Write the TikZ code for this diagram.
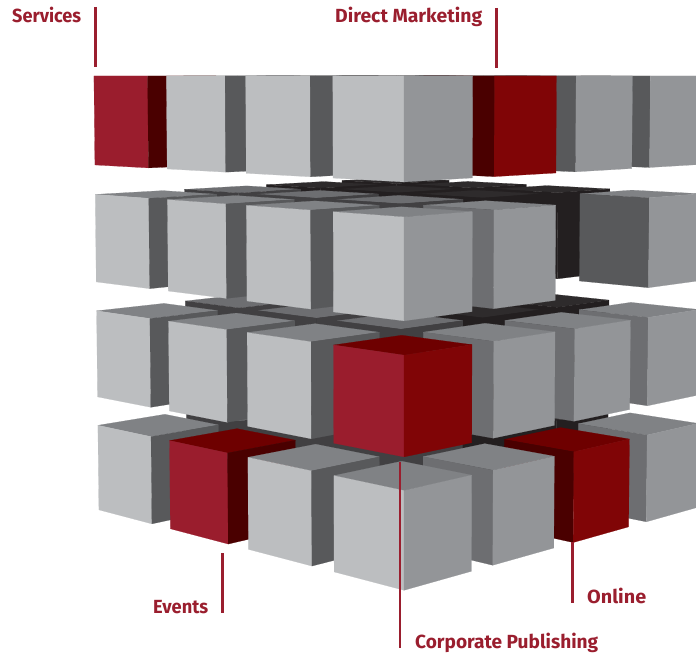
\documentclass[tikz,border=0pt]{standalone}
\usepackage{fontspec}
\setmainfont{Fira Sans}
\definecolor{lbl}{HTML}{9A1E2E}
\definecolor{cT}{HTML}{808285}
\definecolor{cL}{HTML}{BCBEC0}
\definecolor{cR}{HTML}{939598}
\definecolor{cD}{HTML}{58595B}
\definecolor{cM}{HTML}{6D6E71}
\definecolor{cIat}{HTML}{6D6E71}
\definecolor{cIa}{HTML}{414042}
\definecolor{cIbt}{HTML}{2E2B2C}
\definecolor{cIb}{HTML}{231F20}
\definecolor{rL}{HTML}{9A1D2D}
\definecolor{rR}{HTML}{800506}
\definecolor{rT}{HTML}{6E0000}
\definecolor{rD}{HTML}{4A0000}
% projection parameters
\def\myca{0.71934}\def\mysa{0.69466}
\def\myct{0.99027}\def\myst{0.13917}
\def\myZo{18.05}\def\mys{1.334}
\def\mycx{404}\def\mycy{341.7}\def\myfx{1837}\def\myfy{1891}
\newcommand\prj[4]{%
  \pgfmathsetmacro\myX{-(#2)*\myca+(#3)*\mysa}%
  \pgfmathsetmacro\myZ{\myZo+(#2)*\mysa+(#3)*\myca}%
  \pgfmathsetmacro\myyc{(#4)*\myct+\myZ*\myst}%
  \pgfmathsetmacro\myzc{\myZ*\myct-(#4)*\myst}%
  \pgfmathsetmacro\myzx{\myZ*\myct-0.5*(#4)*\myst}%
  \pgfmathsetmacro\mysx{\mycx+\myfx*(\myX/\myzx)}%
  \pgfmathsetmacro\mysy{\mycy-\myfy*(\myyc/\myzc)}%
  \coordinate (#1) at (\mysx,\mysy);%
}
\newcommand\drawcube[3]{%
 \edef\cid{#1#2#3}%
 \ifnum\cid=21 \else
  \pgfmathsetmacro\cpa{#1*\mys}%
  \pgfmathsetmacro\cpb{\cpa+1}%
  \pgfmathsetmacro\cqa{#2*\mys}%
  \pgfmathsetmacro\cqb{\cqa+1}%
  \pgfmathsetmacro\cyt{-#3*\mys}%
  \pgfmathsetmacro\cyb{\cyt-1}%
  \prj{A}{\cpa}{\cqa}{\cyt}%
  \prj{L}{\cpb}{\cqa}{\cyt}%
  \prj{R}{\cpa}{\cqb}{\cyt}%
  \prj{B}{\cpb}{\cqb}{\cyt}%
  \prj{Ab}{\cpa}{\cqa}{\cyb}%
  \prj{Lb}{\cpb}{\cqa}{\cyb}%
  \prj{Rb}{\cpa}{\cqb}{\cyb}%
  \def\ctop{cT}\def\cleft{cL}\def\cright{cR}%
  \ifnum#1>0 \def\cright{cD}\fi
  \ifnum#2>0 \ifnum#3=0 \def\cleft{cD}\else\def\cleft{cM}\fi\fi
  \ifnum\cid=31 \def\cleft{cD}\fi
  \ifnum#1>0 \ifnum#2>0
     \ifnum#1=1 \def\ctop{cIat}\def\cleft{cIa}\def\cright{cIa}%
     \else\ifnum#2=1 \def\ctop{cIat}\def\cleft{cIa}\def\cright{cIa}%
     \else \def\ctop{cIbt}\def\cleft{cIb}\def\cright{cIb}\fi\fi
     \ifnum#2>#1 \def\ctop{cIbt}\def\cleft{cIb}\def\cright{cIb}\fi
  \fi\fi
  \ifnum\cid=300 \def\cleft{rL}\def\cright{rD}\fi
  \ifnum\cid=10 \def\cleft{rD}\def\cright{rR}\fi
  \ifnum\cid=2 \def\ctop{rT}\def\cleft{rL}\def\cright{rR}\fi
  \ifnum\cid=203 \def\ctop{rT}\def\cleft{rL}\def\cright{rD}\fi
  \ifnum\cid=23 \def\ctop{rT}\def\cleft{rD}\def\cright{rR}\fi
  \ifnum#3>0 \fill[face,fill=\ctop,draw=\ctop] (A)--(L)--(B)--(R)--cycle;\fi
  \fill[face,fill=\cleft,draw=\cleft] (L)--(A)--(Ab)--(Lb)--cycle;
  \fill[face,fill=\cright,draw=\cright] (A)--(R)--(Rb)--(Ab)--cycle;
 \fi}
\begin{document}
\begin{tikzpicture}[x=1pt,y=-1pt,
  face/.style={line width=0.2pt,line join=round},
  lab/.style={text=lbl,font=\fontsize{19}{22}\selectfont\bfseries,inner sep=0pt},
  leader/.style={draw=lbl,line width=2.8pt}]
\useasboundingbox (0,0) rectangle (696,655);
\begin{scope}
\clip (0,0) rectangle (696,655);
\foreach \ck in {3,2,1,0}{
  \foreach \cd in {6,5,4,3,2,1,0}{
    \foreach \ci in {0,1,2,3}{
      \pgfmathtruncatemacro\cj{\cd-\ci}
      \ifnum\cj<0 \else \ifnum\cj>3 \else \drawcube{\ci}{\cj}{\ck}\fi\fi
    }}}
\end{scope}
% labels
\node[lab,anchor=base west] (services) at (12,23) {\resizebox{69pt}{\height}{Services}};
\node[lab,anchor=base west] (dm) at (335,23) {\resizebox{147pt}{\height}{Direct Marketing}};
\node[lab,anchor=base west] (events) at (153,613) {\resizebox{55pt}{\height}{Events}};
\node[lab,anchor=base west] (online) at (587,603) {\resizebox{59pt}{\height}{Online}};
\node[lab,anchor=base west] (cp) at (415,648) {\resizebox{183pt}{\height}{Corporate Publishing}};
% leader lines
\coordinate (sT) at (95.5,7);   \coordinate (sB) at (95.5,67);
\coordinate (dT) at (496.7,8);  \coordinate (dB) at (496.7,68);
\coordinate (eT) at (222.3,553);\coordinate (eB) at (222.3,613);
\coordinate (oT) at (572.3,542);\coordinate (oB) at (572.3,603);
\coordinate (cT) at (400,462);  \coordinate (cB) at (400,648);
\draw[leader] (sT) -- (sB);
\draw[leader] (dT) -- (dB);
\draw[leader] (eT) -- (eB);
\draw[leader] (oT) -- (oB);
\draw[leader] (cT) -- (cB);
\end{tikzpicture}
\end{document}
